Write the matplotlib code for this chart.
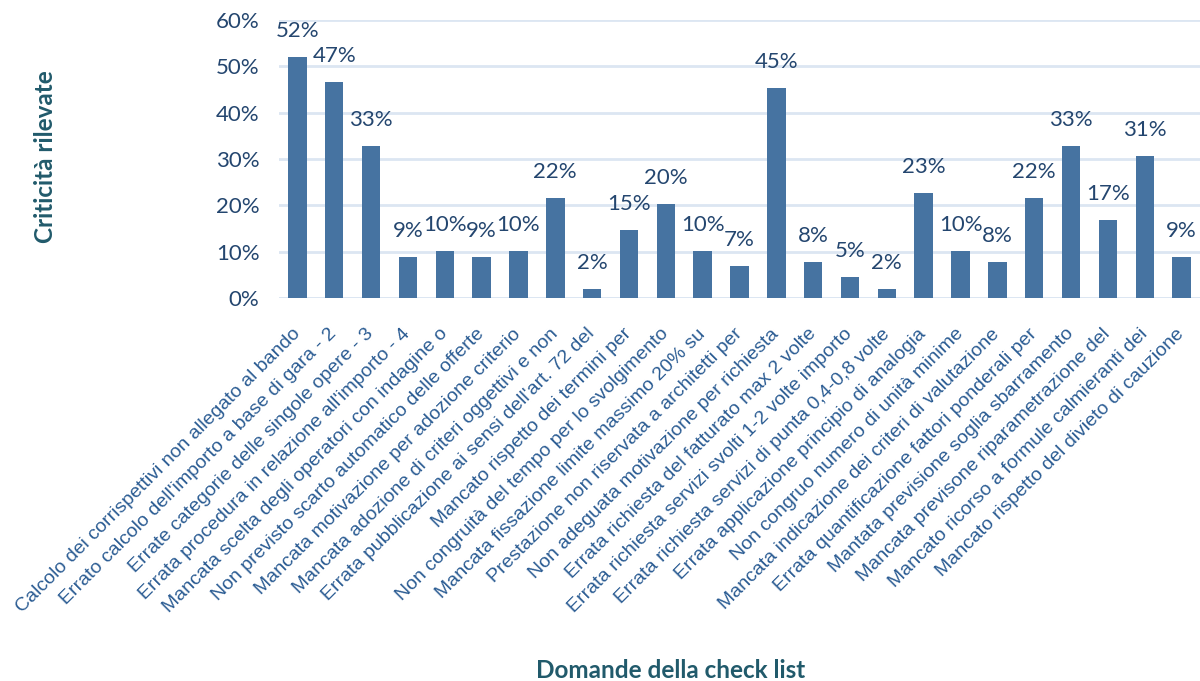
import numpy as np
import matplotlib
matplotlib.use("Agg")
import matplotlib.pyplot as plt

# Domande della check list (etichette asse x)
domande = [
    "Calcolo dei corrispettivi non allegato al bando",
    "Errato calcolo dell'importo a base di gara - 2",
    "Errate categorie delle singole opere - 3",
    "Errata procedura in relazione all'importo - 4",
    "Mancata scelta degli operatori con indagine o",
    "Non previsto scarto automatico delle offerte",
    "Mancata motivazione per adozione criterio",
    "Mancata adozione di criteri oggettivi e non",
    "Errata pubblicazione ai sensi dell'art. 72 del",
    "Mancato rispetto dei termini per",
    "Non congruità del tempo per lo svolgimento",
    "Mancata fissazione limite massimo 20% su",
    "Prestazione non riservata a architetti per",
    "Non adeguata motivazione per richiesta",
    "Errata richiesta del fatturato max 2 volte",
    "Errata richiesta servizi svolti 1-2 volte importo",
    "Errata richiesta servizi di punta 0,4-0,8 volte",
    "Errata applicazione principio di analogia",
    "Non congruo numero di unità minime",
    "Mancata indicazione dei criteri di valutazione",
    "Errata quantificazione fattori ponderali per",
    "Mantata previsione soglia sbarramento",
    "Mancata previsone riparametrazione del",
    "Mancato ricorso a formule calmieranti dei",
    "Mancato rispetto del divieto di cauzione",
]

# Criticità rilevate (%)
criticita = [52.1, 46.6, 32.8, 8.9, 10.1, 8.9, 10.1, 21.6, 2.0, 14.7,
             20.3, 10.1, 6.8, 45.3, 7.8, 4.6, 2.0, 22.6, 10.1, 7.8,
             21.6, 32.8, 16.8, 30.6, 8.9]

y_ticks = [0, 10, 20, 30, 40, 50, 60]

bar_color = "#4673a1"
label_color = "#24466f"
xlab_color = "#2b5c93"
title_color = "#215a6b"
grid_color = "#dce6f2"

fig = plt.figure(figsize=(12, 6.81), dpi=100)
ax = fig.add_axes([279 / 1200, 1 - 298 / 681, 921 / 1200, 278 / 681])

x = np.arange(len(domande))
ax.bar(x, criticita, width=0.5, color=bar_color, zorder=3)

# etichette dati sopra le barre
for xi, v in zip(x, criticita):
    ax.annotate(f"{v:.0f}%", (xi, v), xytext=(0, 14.4), textcoords="offset points",
                ha="center", va="baseline", fontsize=16, color=label_color,
                family="Lato", zorder=4)

ax.set_xlim(-0.5, len(domande) - 0.5)
ax.set_ylim(0, 60)
ax.set_yticks(y_ticks, [f"{t}%" for t in y_ticks])
ax.yaxis.grid(True, color=grid_color, linewidth=2, zorder=0)
for s in ["top", "right", "left", "bottom"]:
    ax.spines[s].set_visible(False)
ax.axhline(0, color=grid_color, linewidth=2, zorder=1)

ax.tick_params(axis="y", length=0, pad=14, labelsize=16, labelcolor=label_color)
for lab in ax.get_yticklabels():
    lab.set_family("Lato")

ax.set_xticks(x, domande, rotation=45, ha="right", va="center",
              rotation_mode="anchor", family="Liberation Sans")
ax.tick_params(axis="x", length=0, pad=24, labelsize=14, labelcolor=xlab_color)

fig.text(46 / 1200, 1 - 157 / 681, "Criticità rilevate", rotation=90,
         ha="center", va="center", fontsize=17.5, fontweight="bold",
         color=title_color, family="Lato")
fig.text(671 / 1200, 1 - 671 / 681, "Domande della check list",
         ha="center", va="center", fontsize=17.5, fontweight="bold",
         color=title_color, family="Lato")

fig.savefig("out.png", dpi=100)
